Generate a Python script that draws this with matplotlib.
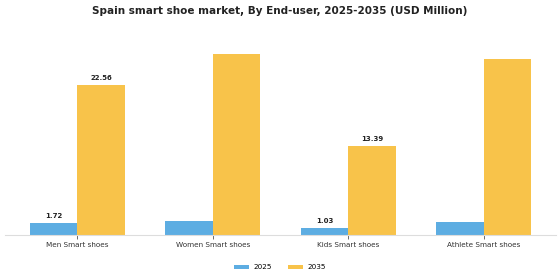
import numpy as np
import matplotlib
matplotlib.use("Agg")
import matplotlib.pyplot as plt

# data
categories = ["Men Smart shoes", "Women Smart shoes", "Kids Smart shoes", "Athlete Smart shoes"]
years = ["2025", "2035"]
values_2025 = [1.72, 2.06, 1.03, 2.0]
values_2035 = [22.56, 27.2, 13.39, 26.4]
# only some bars carry a label in the source chart
labels_2025 = ["1.72", None, "1.03", None]
labels_2035 = ["22.56", None, "13.39", None]

colors = ["#5DADE2", "#F8C34A"]

fig = plt.figure(figsize=(5.6, 2.8), dpi=100)
ax = fig.add_axes([0.009, 0.161, 0.984, 0.678])

x = np.arange(len(categories))
w = 0.35
b1 = ax.bar(x - w / 2, values_2025, w, color=colors[0], label=years[0])
b2 = ax.bar(x + w / 2, values_2035, w, color=colors[1], label=years[1])

for bars, labs in [(b1, labels_2025), (b2, labels_2035)]:
    for bar, lab in zip(bars, labs):
        if lab is None:
            continue
        ax.annotate(lab, (bar.get_x() + bar.get_width() / 2, bar.get_height()),
                    xytext=(0, 3), textcoords="offset points",
                    ha="center", va="bottom", fontsize=5, fontweight="bold", color="#222222")

ax.set_xticks(x)
ax.set_xticklabels(categories, fontsize=5.2, color="#333333")
ax.tick_params(axis="x", length=3, width=0.6, color="#555555", pad=2)
ax.set_yticks([])
for s in ["top", "right", "left"]:
    ax.spines[s].set_visible(False)
ax.spines["bottom"].set_color("#dddddd")
ax.spines["bottom"].set_linewidth(0.8)

fig.suptitle("Spain smart shoe market, By End-user, 2025-2035 (USD Million)",
             fontsize=7.5, fontweight="bold", color="#222222", y=0.98)

fig.legend(loc="center", bbox_to_anchor=(0.5, 0.045), ncol=2, frameon=False,
           fontsize=5.2, handlelength=2.1, handleheight=0.6, handletextpad=0.7,
           columnspacing=2.1)

fig.savefig("out.png", dpi=100)
